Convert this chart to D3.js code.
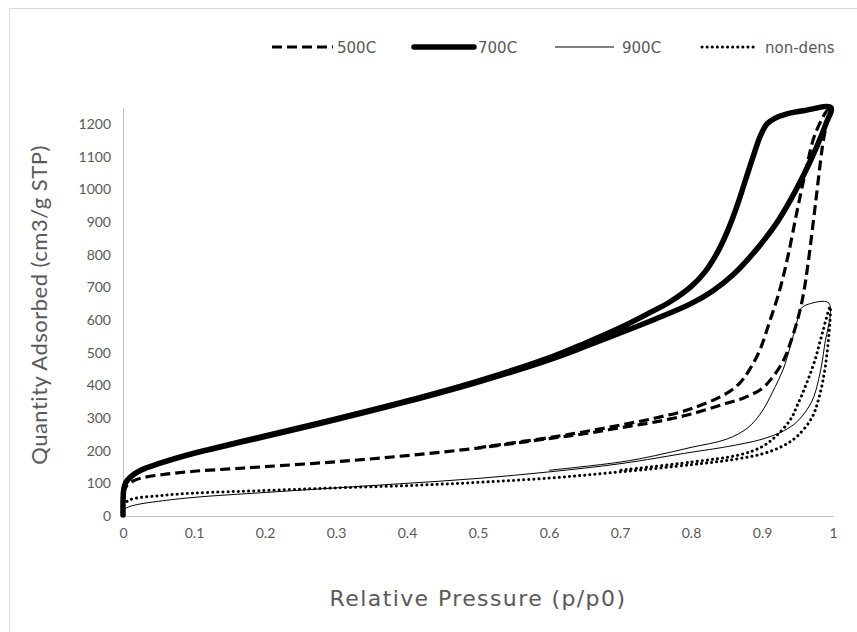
<!DOCTYPE html>
<html><head><meta charset="utf-8">
<script src="https://cdn.jsdelivr.net/npm/d3@7"></script>
<style>body{margin:0;background:#fff}svg{display:block}</style>
</head><body><svg id="c" width="857" height="632"></svg>
<script>
// ---- data (relative pressure p/p0, quantity adsorbed cm3/g STP); adsorption then desorption ----
const p500 = [0,0.005,0.015,0.03,0.06,0.1,0.15,0.2,0.3,0.4,0.5,0.6,0.65,0.7,0.75,0.8,0.85,0.875,0.9,0.915,0.93,0.94,0.95,0.958,0.965,0.975,0.985,0.993,
              0.975,0.962,0.95,0.937,0.925,0.91,0.897,0.883,0.87,0.85,0.8,0.75,0.7,0.65,0.6,0.5];
const q500 = [68,92,108,118,128,137,144,151,166,185,208,237,252,270,288,312,345,362,390,425,475,530,600,675,775,950,1130,1243,
              1170,1060,940,800,692,590,508,450,410,375,328,300,278,258,240,209];
const p700 = [0,0.001,0.004,0.012,0.025,0.05,0.1,0.15,0.2,0.3,0.4,0.5,0.6,0.65,0.7,0.75,0.8,0.83,0.86,0.89,0.92,0.94,0.96,0.975,0.99,0.997,
              0.96,0.935,0.918,0.907,0.898,0.889,0.877,0.865,0.852,0.838,0.82,0.8,0.77,0.74,0.7,0.65,0.6,0.5,0.4,0.3,0.2,0.12];
const q700 = [3,80,103,122,140,160,192,218,243,295,350,410,478,518,560,603,650,688,740,810,895,967,1050,1120,1200,1250,
              1241,1231,1217,1200,1165,1110,1030,950,875,810,748,702,655,620,576,528,484,413,352,297,245,203];
const p900 = [0,0.005,0.02,0.05,0.1,0.2,0.3,0.4,0.5,0.6,0.7,0.8,0.85,0.9,0.93,0.95,0.97,0.98,0.988,0.994,
              0.965,0.955,0.95,0.94,0.93,0.915,0.9,0.88,0.85,0.8,0.75,0.7,0.6];
const q900 = [15,25,35,45,57,72,86,100,115,135,160,195,212,235,260,290,350,420,520,652,
              648,635,600,520,450,380,320,270,235,210,185,165,140];
const pND = [0,0.01,0.05,0.1,0.2,0.3,0.4,0.5,0.6,0.7,0.8,0.85,0.9,0.93,0.95,0.97,0.98,0.99,0.996,
             0.985,0.975,0.963,0.95,0.94,0.92,0.9,0.87,0.8,0.7];
const qND = [35,50,62,70,78,86,93,103,116,135,157,170,190,215,245,300,360,470,640,
             560,480,407,340,295,245,212,188,165,140];
const seriesNames = ["500C","700C","900C","non-dens"];
const xTicks = [0,0.1,0.2,0.3,0.4,0.5,0.6,0.7,0.8,0.9,1];
const yTicks = [0,100,200,300,400,500,600,700,800,900,1000,1100,1200];

const series = [
  {name:seriesNames[0], p:p500, q:q500, w:3.2, dash:"10,5", cap:"butt"},
  {name:seriesNames[1], p:p700, q:q700, w:5.5, dash:null, cap:"round"},
  {name:seriesNames[2], p:p900, q:q900, w:1, dash:null, cap:"butt"},
  {name:seriesNames[3], p:pND, q:qND, w:3, dash:"0.1,5", cap:"round"}
];

const svg = d3.select("#c");
svg.append("rect").attr("width",857).attr("height",632).attr("fill","#fff");
svg.append("rect").attr("x",9.5).attr("y",8.5).attr("width",900).attr("height",700)
   .attr("fill","none").attr("stroke","#d9d9d9");

const x = d3.scaleLinear().domain([0,1]).range([123,833]);
const y = d3.scaleLinear().domain([0,1250]).range([516,107.6]);
const gray = "#595959";
const tickFont = "Lato, 'Open Sans', sans-serif";

const xa = svg.append("g").attr("transform","translate(0,516)")
  .call(d3.axisBottom(x).tickValues(xTicks).tickSize(0).tickPadding(12).tickFormat(d=>String(d)));
const ya = svg.append("g").attr("transform","translate(123,0)")
  .call(d3.axisLeft(y).tickValues(yTicks).tickSize(0).tickPadding(12).tickFormat(d=>String(d)));
[xa,ya].forEach(g=>{
  g.select(".domain").attr("stroke","#bfbfbf").attr("stroke-width",1);
  g.selectAll("text").attr("fill",gray).attr("font-size",14).attr("font-family",tickFont);
});

const line = d3.line().x(d=>x(d[0])).y(d=>y(d[1])).curve(d3.curveCatmullRom.alpha(0.5));
const plot = svg.append("g");
series.forEach(s=>{
  const pts = s.p.map((v,i)=>[v,s.q[i]]);
  plot.append("path").attr("d",line(pts)).attr("fill","none").attr("stroke","#000")
    .attr("stroke-width",s.w).attr("stroke-dasharray",s.dash).attr("stroke-linecap",s.cap)
    .attr("stroke-linejoin","round");
});

// axis titles
svg.append("text").attr("x",478).attr("y",606).attr("text-anchor","middle")
  .attr("font-family","'DejaVu Sans', sans-serif").attr("font-size",22).attr("letter-spacing",1.4)
  .attr("fill",gray).text("Relative Pressure (p/p0)");
svg.append("text").attr("transform","translate(47,305) rotate(-90)").attr("text-anchor","middle")
  .attr("font-family",tickFont).attr("font-size",22).attr("letter-spacing",0.5).attr("fill",gray)
  .text("Quantity Adsorbed (cm3/g STP)");

// legend
const legX = [272, 414, 555, 702];
const legLen = [61, 60, 59, 52];
const legY = 47;
const lg = svg.append("g");
series.forEach((s,i)=>{
  const g = lg.append("g").attr("transform",`translate(${legX[i]},${legY})`);
  g.append("line").attr("x1",0).attr("x2",legLen[i]).attr("y1",0).attr("y2",0)
    .attr("stroke","#000").attr("stroke-width",s.w).attr("stroke-dasharray",s.dash)
    .attr("stroke-linecap",s.cap);
  g.append("text").attr("x",legLen[i]+(i===2?8:(i===3?11:4))).attr("y",5.5)
    .attr("font-family","'DejaVu Sans', sans-serif")
    .attr("font-size",15).attr("fill",gray).text(s.name);
});
</script></body></html>
